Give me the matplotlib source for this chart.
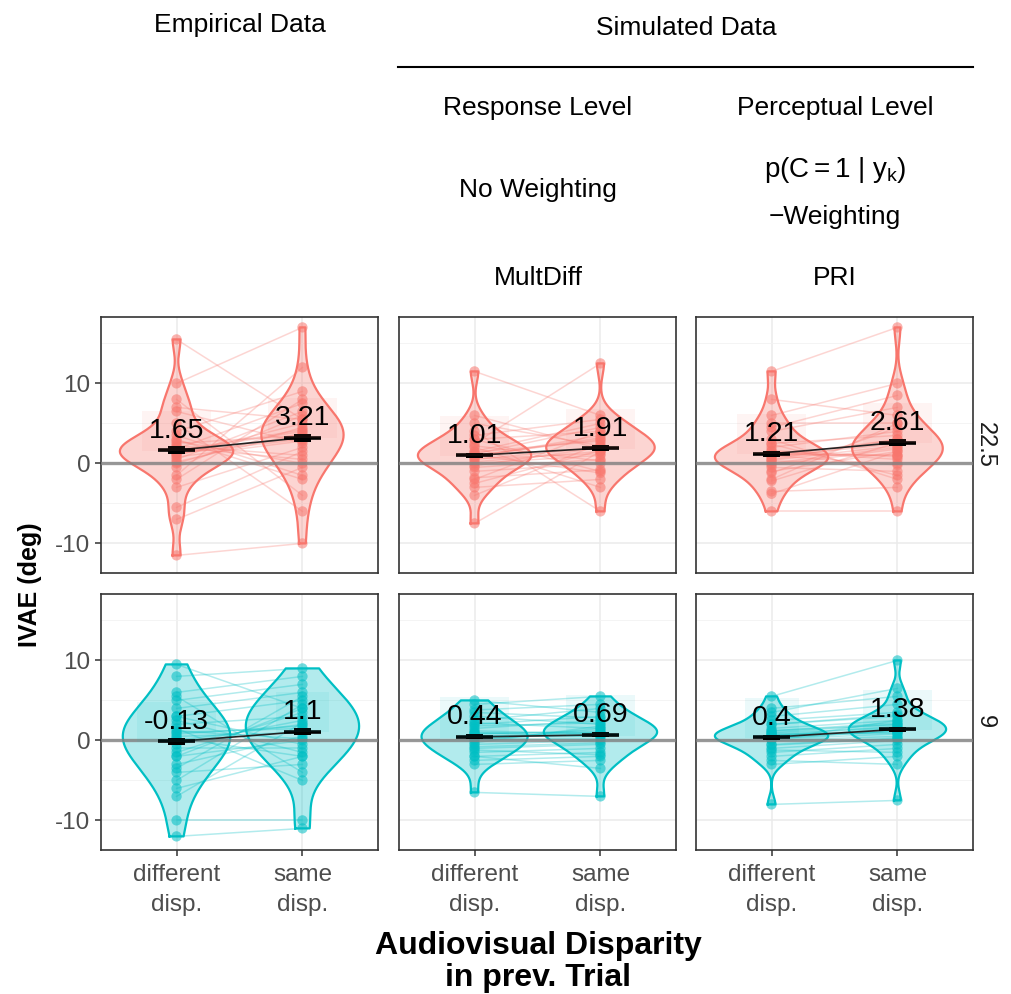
import numpy as np
import matplotlib
matplotlib.use('Agg')
import matplotlib.pyplot as plt

plt.rcParams['font.family'] = ['Liberation Sans', 'DejaVu Sans']
plt.rcParams['mathtext.fontset'] = 'custom'
plt.rcParams['mathtext.rm'] = 'Liberation Sans'
plt.rcParams['mathtext.it'] = 'Liberation Sans:italic'
plt.rcParams['axes.unicode_minus'] = False

# ---------------- data ----------------
categories = ['different\ndisp.', 'same\ndisp.']
disparities = ['22.5', '9']
models = ['Empirical', 'MultDiff', 'PRI']

# per-subject IVAE (deg); index = subject, paired between conditions
emp_22_diff = [1.5, -3, 8, 0.5, 2, -11.5, 4, 1.2, 15.5, -1.5, 3, 0, 6.5, -5.5, 1.8,
               10, 2.5, -7, 5, 1, 1.3, 2.2, -0.5, 0.8, 3.5, 1.6, -2, 2.8, 0.2, 7]
emp_22_same = [4, 2, -4, 6.5, 0.5, -10, 9, 3, 5.5, 12, -2, 4.5, 2.5, 1.5, 7.5,
               17, 3.5, -0.5, -6, 5, 3.2, 1, 6, 2.8, -1.5, 4.2, 8, 0, 3.8, 5.5]
mult_22_diff = [0.5, -2, 3, 1, -0.5, 11.5, 2, -4, 0, 1.5, -7.5, 4, 0.8, -1, 2.5,
                5, -3, 1.2, 6, 0.2, 0.6, 1.4, -1.8, 0.9, 2.2, -0.3, 3.5, 1.1, -2.5, 3]
mult_22_same = [2, 4, -1, 3, 0.5, 6, -3, 2.5, 1, 5, 1.5, -6, 3.5, 0, 12.5,
                2.2, -2, 4.5, 1.8, 1.5, 1.2, 2.8, -0.8, 3.2, 0.3, 2, 5.5, -1.2, 1.6, 4]
pri_22_diff = [0.5, 1, -2, 3, 11.5, 0, -6, 2, 1.5, -1, 4, 0.8, -3.5, 6, 1.2,
               0.3, 2.5, -0.5, 8, -3.8, 0.4, 1.6, -1.2, 2.4, 0.9, -0.2, 4.5, 1, -2.2, 5]
pri_22_same = [3, 1, 5, -2, 17, 2, -6, 4, 0.5, 1.5, 7, 2.5, -3, 10, 1,
               0, 3.5, -1, 6, 1.5, 2.2, 0.8, 4.5, -1.5, 3, 1.8, 8.5, -0.2, 2.6, 5]

emp_9_diff = [0, 3, -4, 8, -12, 1, -2, 5, -1, 9.5, -6, 2, -10, 0.5, 4,
              -3, 1.5, -0.5, 6, -5, 0.8, -1.5, 2.5, -3.5, 1.2, 5.5, -7, 0.3, 3, -2]
emp_9_same = [2, 5, -3, 9, -11, 1.5, 0, 7, -1, 4, -2, 3, -10, 1, 6,
              0.5, -5, 2.5, 8, 4.5, 1.8, 3.5, -1.5, 5.5, 0.2, -4, 2.2, -2, -0.5, 4]
mult_9_diff = [0.5, 2, -1, 4.5, -6.5, 1, 0, 3, -2, 1.5, -0.5, 2.5, -3, 0.8, 5,
               -1.5, 1.2, 0.2, 3.5, -2.5, 0.3, 1.8, -0.8, 2.2, -1.2, 0.9, 3.8, -2, 0.6, -0.3]
mult_9_same = [1, 3, -0.5, 5.5, -7, 0.5, 1.5, 2, -1.5, 2.5, 0, 4, -2.5, 1.2, 3.5,
               -1, 0.8, 0.2, 2.8, -2, 0.8, 2.2, -0.3, 1.5, -1.8, 1, 4.5, -3.5, 0.6, 1.8]
pri_9_diff = [0.5, 1.5, -1, 5.5, -8, 0.8, 0, 2, -2, 1, 0.3, 3, -3, 0.6, 4,
              -0.5, 1.2, 0.2, 2.5, -1.5, 0.2, 1.2, -0.6, 2, -1.2, 0.7, 3.5, -2.5, 0.9, 0.1]
pri_9_same = [1.5, 2.5, 0, 10, -7.5, 1, 0.5, 3, -1, 2, 1.2, 4.5, -2, 1.8, 5.5,
              0.3, 2.2, 0.8, 3.5, -0.5, 1.2, 2, 0.2, 3.2, -1.5, 0.9, 6.5, -3, 1.6, 2.5]

# group means shown in the chart (different, same)
means_22 = [[1.65, 3.21], [1.01, 1.91], [1.21, 2.61]]
means_9 = [[-0.13, 1.1], [0.44, 0.69], [0.4, 1.38]]
# standard errors (approx.)
se_22 = [[0.5, 0.5], [0.35, 0.4], [0.35, 0.45]]
se_9 = [[0.45, 0.4], [0.3, 0.3], [0.3, 0.3]]

data = {
    ('22.5', 'Empirical'): (emp_22_diff, emp_22_same),
    ('22.5', 'MultDiff'): (mult_22_diff, mult_22_same),
    ('22.5', 'PRI'): (pri_22_diff, pri_22_same),
    ('9', 'Empirical'): (emp_9_diff, emp_9_same),
    ('9', 'MultDiff'): (mult_9_diff, mult_9_same),
    ('9', 'PRI'): (pri_9_diff, pri_9_same),
}
row_means = {'22.5': means_22, '9': means_9}
row_se = {'22.5': se_22, '9': se_9}
row_colors = {'22.5': '#F8766D', '9': '#00BFC4'}

# ---------------- helpers ----------------
def kde(vals, n=256, adjust=1.4):
    v = np.asarray(vals, float)
    sd = v.std(ddof=1)
    q75, q25 = np.percentile(v, [75, 25])
    bw = adjust * 0.9 * min(sd, (q75 - q25) / 1.34) * len(v) ** -0.2
    ys = np.linspace(v.min(), v.max(), n)
    d = np.exp(-0.5 * ((ys[:, None] - v[None, :]) / bw) ** 2).sum(1) / (len(v) * bw * np.sqrt(2 * np.pi))
    return ys, d

# ---------------- figure ----------------
W, H = 1011, 994
fig = plt.figure(figsize=(W / 100, H / 100), dpi=100)
cols_x = [101, 399, 696]
rows_y = [317, 594]
pw, ph = 277, 256
ylim = (-13.7, 18.3)

for ri, disp in enumerate(disparities):
    col = row_colors[disp]
    for ci, model in enumerate(models):
        ax = fig.add_axes([cols_x[ci] / W, 1 - (rows_y[ri] + ph) / H, pw / W, ph / H])
        diff, same = data[(disp, model)]
        groups = [diff, same]
        ax.set_xlim(0.4, 2.6)
        ax.set_ylim(*ylim)
        ax.set_xticks([1, 2])
        ax.set_yticks([-10, 0, 10])
        ax.set_yticks([-5, 5, 15], minor=True)
        ax.grid(True, which='major', color='#EBEBEB', lw=1.1, zorder=0)
        ax.grid(True, which='minor', axis='y', color='#F2F2F2', lw=0.6, zorder=0)
        ax.set_axisbelow(True)
        for s in ax.spines.values():
            s.set_color('#333333')
            s.set_linewidth(1.2)
        ax.tick_params(which='minor', length=0)
        ax.tick_params(which='major', length=4, width=1.1, color='#333333',
                       labelcolor='#4D4D4D', labelsize=17.5)
        ax.tick_params(axis='x', pad=6)
        if ci == 0:
            ax.set_yticklabels(['-10', '0', '10'])
        else:
            ax.tick_params(axis='y', length=0, labelleft=False)
        if ri == 1:
            ax.set_xticklabels(categories, linespacing=1.45)
        else:
            ax.tick_params(axis='x', length=0, labelbottom=False)

        # paired subject lines
        for a, b in zip(diff, same):
            ax.plot([1, 2], [a, b], color=col, alpha=0.3, lw=1.1, zorder=2)

        # violins (area scaling within panel)
        dens = [kde(g) for g in groups]
        dmax = max(d.max() for _, d in dens)
        for xi, (ys, d) in zip([1, 2], dens):
            w = 0.45 * d / dmax
            xs = np.concatenate([xi - w, (xi + w)[::-1]])
            yy = np.concatenate([ys, ys[::-1]])
            ax.fill(xs, yy, facecolor=col, alpha=0.3, edgecolor='none', zorder=3)
            ax.plot(np.append(xs, xs[0]), np.append(yy, yy[0]), color=col, lw=1.6, zorder=4)

        # points
        for xi, g in zip([1, 2], groups):
            ax.scatter(np.full(len(g), xi), g, s=55, color=col, alpha=0.55,
                       edgecolors='none', zorder=5)

        # zero line
        ax.axhline(0, color='#808080', lw=2.4, alpha=0.8, zorder=6)

        # means
        m = row_means[disp][ci]
        se = row_se[disp][ci]
        ax.plot([1, 2], m, color='#222222', lw=1.2, zorder=7)
        for xi, mv, sv in zip([1, 2], m, se):
            ax.plot([xi - 0.15, xi + 0.15], [mv, mv], color='black', lw=2.6,
                    solid_capstyle='butt', zorder=8)
            ax.fill_between([xi - 0.07, xi + 0.07], mv - sv, mv + sv, color='black', zorder=8, lw=0)
            ax.text(xi, mv + 0.8, f'{mv:g}', ha='center', va='bottom', fontsize=20.5,
                    color='black', zorder=9,
                    bbox=dict(boxstyle='square,pad=0.25', fc=col, alpha=0.08, ec='none'))

    # right strip label
    fig.text(985 / W, 1 - (rows_y[ri] + ph / 2) / H, disp, rotation=-90,
             ha='center', va='center', fontsize=17, color='#1A1A1A')

# ---------------- headers ----------------
hs = 19
fig.text(240 / W, 1 - 25 / H, 'Empirical Data', ha='center', va='center', fontsize=hs)
fig.text(686 / W, 1 - 28 / H, 'Simulated Data', ha='center', va='center', fontsize=hs)
fig.add_artist(plt.Line2D([398 / W, 973 / W], [1 - 67 / H, 1 - 67 / H], color='black', lw=1.5))
fig.text(538 / W, 1 - 108 / H, 'Response Level', ha='center', va='center', fontsize=hs)
fig.text(835 / W, 1 - 108 / H, 'Perceptual Level', ha='center', va='center', fontsize=hs)
fig.text(538 / W, 1 - 190 / H, 'No Weighting', ha='center', va='center', fontsize=hs)
fig.text(835 / W, 1 - 170 / H, r'p$\left(\mathrm{C} = 1\ |\ \mathrm{y}_\mathrm{k}\right)$',
         ha='center', va='center', fontsize=hs + 1)
fig.text(835 / W, 1 - 217 / H, '\u2212Weighting', ha='center', va='center', fontsize=hs)
fig.text(538 / W, 1 - 278 / H, 'MultDiff', ha='center', va='center', fontsize=hs)
fig.text(835 / W, 1 - 278 / H, 'PRI', ha='center', va='center', fontsize=hs)

# axis titles
fig.text(30 / W, 1 - 585 / H, 'IVAE (deg)', rotation=90, ha='center', va='center',
         fontsize=18, fontweight='bold')
fig.text(538 / W, 1 - 962 / H, 'Audiovisual Disparity\nin prev. Trial', ha='center',
         va='center', fontsize=23, fontweight='bold', linespacing=1.1)

fig.savefig('out.png', dpi=100)
